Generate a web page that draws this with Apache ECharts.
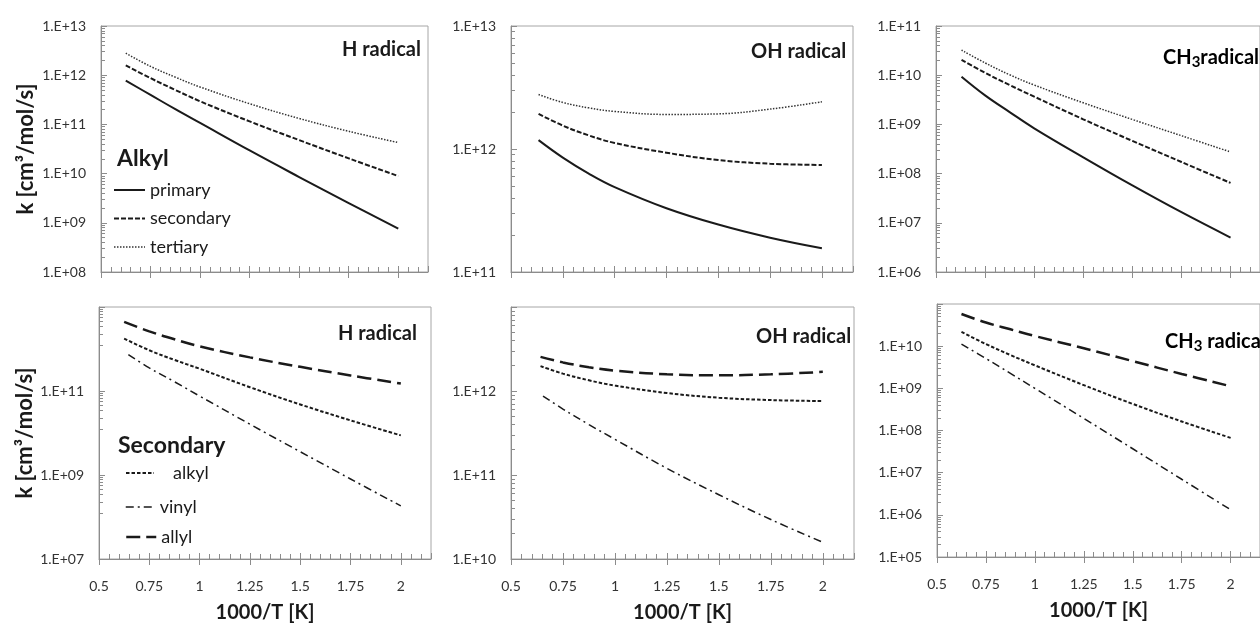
<!DOCTYPE html>
<html><head><meta charset="utf-8">
<script src="https://cdn.jsdelivr.net/npm/echarts@6/dist/echarts.min.js"></script>
<style>html,body{margin:0;padding:0;background:#fff}#c{width:1260px;height:624px}</style>
</head><body><div id="c"></div>
<script>
// ---------- data ----------
const xTicks = [0.5, 0.75, 1, 1.25, 1.5, 1.75, 2];

// top row: alkyl radicals (primary / secondary / tertiary)
const hAlkylX    = [0.625, 0.75, 0.875, 1.0, 1.25, 1.5, 1.75, 2.0];
const hPrimary   = [7.76e11, 3.98e11, 2.04e11, 1.07e11, 2.95e10, 8.51e9, 2.51e9, 7.59e8];
const hSecondary = [1.58e12, 8.71e11, 5.01e11, 2.95e11, 1.15e11, 4.79e10, 2.04e10, 8.91e9];
const hTertiary  = [2.80e12, 1.51e12, 9.12e11, 5.75e11, 2.63e11, 1.32e11, 7.24e10, 4.27e10];

const ohAlkylX    = [0.633, 0.75, 0.875, 1.0, 1.25, 1.5, 1.75, 2.0];
const ohPrimary   = [1.18e12, 8.51e11, 6.31e11, 4.90e11, 3.30e11, 2.43e11, 1.90e11, 1.56e11];
const ohSecondary = [1.93e12, 1.55e12, 1.29e12, 1.12e12, 9.33e11, 8.13e11, 7.59e11, 7.41e11];
const ohTertiary  = [2.77e12, 2.39e12, 2.16e12, 2.02e12, 1.91e12, 1.93e12, 2.11e12, 2.42e12];

const ch3AlkylX    = [0.63, 0.75, 0.875, 1.0, 1.25, 1.5, 1.75, 2.0];
const ch3Primary   = [9.31e9, 3.89e9, 1.78e9, 8.32e8, 2.14e8, 5.75e7, 1.64e7, 5.01e6];
const ch3Secondary = [2.04e10, 1.12e10, 6.31e9, 3.67e9, 1.27e9, 4.62e8, 1.72e8, 6.46e7];
const ch3Tertiary  = [3.24e10, 1.78e10, 1.02e10, 6.31e9, 2.75e9, 1.26e9, 5.89e8, 2.75e8];

// bottom row: secondary radicals (alkyl / vinyl / allyl)
const hSecX    = [0.625, 0.75, 0.875, 1.0, 1.25, 1.5, 1.75, 2.0];
const hAllyl   = [4.41e12, 2.63e12, 1.70e12, 1.16e12, 6.31e11, 3.76e11, 2.34e11, 1.51e11];
const hAlkyl   = [1.77e12, 9.33e11, 5.50e11, 3.39e11, 1.23e11, 4.79e10, 2.00e10, 8.79e9];
const hVinylX  = [0.646, 0.75, 0.875, 1.0, 1.25, 1.5, 1.75, 2.0];
const hVinyl   = [7.38e11, 3.55e11, 1.66e11, 7.59e10, 1.62e10, 3.59e9, 8.04e8, 1.84e8];

const ohSecX   = [0.642, 0.75, 0.875, 1.0, 1.25, 1.5, 1.75, 2.0];
const ohAllyl  = [2.55e12, 2.19e12, 1.92e12, 1.75e12, 1.58e12, 1.54e12, 1.58e12, 1.69e12];
const ohAlkyl  = [1.98e12, 1.61e12, 1.34e12, 1.16e12, 9.46e11, 8.32e11, 7.80e11, 7.59e11];
const ohVinylX = [0.654, 0.75, 0.875, 1.0, 1.25, 1.5, 1.75, 2.0];
const ohVinyl  = [8.71e11, 6.10e11, 3.98e11, 2.66e11, 1.20e11, 5.82e10, 2.95e10, 1.58e10];

const ch3SecX  = [0.625, 0.75, 0.875, 1.0, 1.25, 1.5, 1.75, 2.0];
const ch3Allyl = [5.78e10, 3.63e10, 2.51e10, 1.74e10, 8.91e9, 4.42e9, 2.19e9, 1.12e9];
const ch3Alkyl = [2.19e10, 1.12e10, 6.17e9, 3.51e9, 1.19e9, 4.27e8, 1.64e8, 6.68e7];
const ch3Vinyl = [1.12e10, 5.08e9, 2.26e9, 1.0e9, 1.93e8, 3.69e7, 6.98e6, 1.32e6];

// ---------- chart ----------
const FONT = 'Lato, "Open Sans", sans-serif';
const AX = '#8c8c8c';
const INK = '#1a1a1a';
const pts = (xs, ys) => xs.map((x, i) => [x, ys[i]]);

const styles = {
  primary:   {width: 2,   type: 'solid', color: INK},
  secondary: {width: 2,   type: [5, 2], color: INK},
  tertiary:  {width: 1.5, type: [1.5, 1.5], color: '#333'},
  alkyl:     {width: 2,   type: [3.5, 2], color: INK},
  vinyl:     {width: 1.5, type: [8, 4, 2, 4], color: INK},
  allyl:     {width: 2.5, type: [14, 6], color: INK}
};

const panels = [
  {grid: {left: 101, top: 26, width: 327, height: 246}, ymin: 1e8,  ymax: 1e13, yint: 1, bottom: false, nameGap: 64,
   series: [['primary', hAlkylX, hPrimary], ['secondary', hAlkylX, hSecondary], ['tertiary', hAlkylX, hTertiary]]},
  {grid: {left: 511, top: 26, width: 342, height: 246}, ymin: 1e11, ymax: 1e13, yint: 1, bottom: false,
   series: [['primary', ohAlkylX, ohPrimary], ['secondary', ohAlkylX, ohSecondary], ['tertiary', ohAlkylX, ohTertiary]]},
  {grid: {left: 936, top: 26, width: 331, height: 246}, ymin: 1e6,  ymax: 1e11, yint: 1, bottom: false,
   series: [['primary', ch3AlkylX, ch3Primary], ['secondary', ch3AlkylX, ch3Secondary], ['tertiary', ch3AlkylX, ch3Tertiary]]},
  {grid: {left: 99, top: 307, width: 332, height: 253}, ymin: 1e7,  ymax: 1e13, yint: 2, bottom: true, nameGap: 63,
   series: [['alkyl', hSecX, hAlkyl], ['vinyl', hVinylX, hVinyl], ['allyl', hSecX, hAllyl]]},
  {grid: {left: 511, top: 307, width: 343, height: 253}, ymin: 1e10, ymax: 1e13, yint: 1, bottom: true,
   series: [['alkyl', ohSecX, ohAlkyl], ['vinyl', ohVinylX, ohVinyl], ['allyl', ohSecX, ohAllyl]]},
  {grid: {left: 937, top: 304, width: 331, height: 253}, ymin: 1e5,  ymax: 1e11, yint: 1, bottom: true,
   series: [['alkyl', ch3SecX, ch3Alkyl], ['vinyl', ch3SecX, ch3Vinyl], ['allyl', ch3SecX, ch3Allyl]]}
];

const grid = [], xAxis = [], yAxis = [], series = [];
const expLabel = v => '1.E+' + String(Math.round(Math.log10(v))).padStart(2, '0');

panels.forEach((p, i) => {
  grid.push(Object.assign({show: true, borderColor: '#a6a6a6', borderWidth: 1, backgroundColor: 'transparent'}, p.grid));
  xAxis.push({
    type: 'value', gridIndex: i, min: 0.5, max: 2.15, interval: 0.25, position: 'bottom',
    axisLine: {show: true, onZero: false, lineStyle: {color: AX, width: 1}},
    axisTick: {show: true, inside: true, length: 6, lineStyle: {color: AX}},
    minorTick: {show: true, splitNumber: 5, length: 5, lineStyle: {color: AX}},
    splitLine: {show: false},
    axisLabel: {show: p.bottom, customValues: xTicks, formatter: v => String(v), fontFamily: FONT, fontSize: 14, color: '#333', margin: 20},
    name: p.bottom ? '1000/T [K]' : '', nameLocation: 'middle', nameGap: 44,
    nameTextStyle: {fontFamily: FONT, fontSize: 20, fontWeight: 'bold', color: INK}
  });
  yAxis.push({
    type: 'log', logBase: 10, gridIndex: i, min: p.ymin, max: p.ymax, interval: p.yint,
    axisLine: {show: true, lineStyle: {color: AX, width: 1}},
    axisTick: {show: true, inside: true, length: 6, lineStyle: {color: AX}},
    minorTick: {show: true, splitNumber: 9, length: 4, lineStyle: {color: AX}},
    splitLine: {show: false},
    axisLabel: {formatter: expLabel, fontFamily: FONT, fontSize: 14, color: '#333', margin: 15,
                showMaxLabel: !p.bottom, showMinLabel: true},
    name: p.nameGap ? 'k [cm³/mol/s]' : '', nameLocation: 'middle', nameRotate: 90, nameGap: p.nameGap || 0,
    nameTextStyle: {fontFamily: FONT, fontSize: 22, fontWeight: 'bold', color: INK}
  });
  p.series.forEach(([name, xs, ys]) => {
    const s = styles[name];
    series.push({
      name, type: 'line', xAxisIndex: i, yAxisIndex: i, data: pts(xs, ys),
      smooth: 0.4, symbol: 'none', silent: true,
      lineStyle: {color: s.color, width: s.width, type: s.type, cap: 'butt'},
      itemStyle: {color: s.color}
    });
  });
});

// outward halves of the crossing major ticks on the x axes
panels.forEach((p, i) => {
  xAxis.push({
    type: 'value', gridIndex: i, min: 0.5, max: 2.15, position: 'bottom',
    axisLine: {show: false}, splitLine: {show: false}, axisLabel: {show: false},
    axisTick: {show: true, inside: false, length: 6, customValues: xTicks, lineStyle: {color: AX}}
  });
});

const legendText = {fontFamily: FONT, fontSize: 18, color: INK};
const legendBase = {padding: 0, itemHeight: 14, selectedMode: false,
  itemStyle: {opacity: 0, borderWidth: 0},
  lineStyle: {width: 'inherit', type: 'inherit', opacity: 1}};
const legend = [
  Object.assign({}, legendBase, {data: ['primary', 'secondary', 'tertiary'], orient: 'vertical', left: 113, top: 181,
   itemWidth: 31, itemGap: 10.5, textStyle: Object.assign({lineHeight: 18}, legendText)}),
  Object.assign({}, legendBase, {data: ['alkyl'], left: 125, top: 464, itemWidth: 28,
   textStyle: Object.assign({lineHeight: 18, padding: [0, 0, 0, 14]}, legendText)}),
  Object.assign({}, legendBase, {data: ['vinyl'], left: 125, top: 498, itemWidth: 28,
   textStyle: Object.assign({lineHeight: 18, padding: [0, 0, 0, 1]}, legendText)}),
  Object.assign({}, legendBase, {data: ['allyl'], left: 125, top: 528, itemWidth: 30,
   textStyle: Object.assign({lineHeight: 18}, legendText)})
];

const titleFont = 'bold 20px ' + FONT;
const rich = {
  a: {fontFamily: FONT, fontSize: 20, fontWeight: 'bold', color: INK, lineHeight: 24},
  s: {fontFamily: FONT, fontSize: 15, fontWeight: 'bold', color: INK, lineHeight: 10, verticalAlign: 'bottom'}
};
const txt = (x, y, text, font) => ({type: 'text', x, y, silent: true,
  style: {text, font, fill: INK, textVerticalAlign: 'middle', textAlign: 'left'}});
const richTxt = (x, y, text) => ({type: 'text', x, y, silent: true,
  style: {text, rich, textVerticalAlign: 'middle', textAlign: 'left'}});

const graphic = [
  txt(342, 50, 'H radical', titleFont),
  txt(751, 52, 'OH radical', titleFont),
  richTxt(1163, 58, '{a|CH}{s|3}{a|radical}'),
  txt(338, 334, 'H radical', titleFont),
  txt(756, 337, 'OH radical', titleFont),
  richTxt(1165, 342, '{a|CH}{s|3}{a| radical}'),
  txt(117, 159, 'Alkyl', 'bold 23px ' + FONT),
  txt(118, 446, 'Secondary', 'bold 23px ' + FONT)
];

const chart = echarts.init(document.getElementById('c'));
chart.setOption({animation: false, backgroundColor: '#fff', grid, xAxis, yAxis, series, legend, graphic});
</script></body></html>
